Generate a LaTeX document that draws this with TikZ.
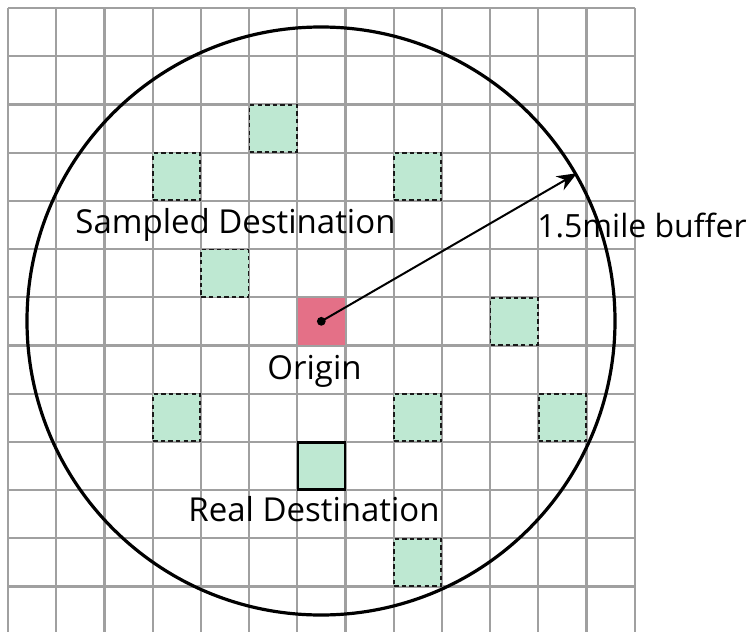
\documentclass[tikz,border=0pt]{standalone}
\usepackage{fontspec}
\setmainfont{Open Sans}
\usetikzlibrary{arrows.meta}
\definecolor{gridgray}{RGB}{160,160,160}
\definecolor{mint}{RGB}{190,232,210}
\definecolor{originpink}{RGB}{228,112,135}
\begin{document}
\begin{tikzpicture}[x=0.5pt,y=-0.5pt,
  gridline/.style={draw=gridgray,line width=1.1pt},
  cellbox/.style={rectangle,minimum size=23.6pt,inner sep=0pt},
  sampled/.style={cellbox,fill=mint,draw=black!90,line width=0.9pt,dash pattern=on 2.2pt off 1.6pt},
  realdest/.style={cellbox,fill=mint,draw=black,line width=1.2pt},
  orig/.style={cellbox,fill=originpink},
  lbl/.style={font=\fontsize{16.5}{19}\selectfont,inner sep=0pt,anchor=base west},
  buffercircle/.style={circle,draw=black,line width=1.6pt,minimum size=294pt,inner sep=0pt}
]
\useasboundingbox (0,0) rectangle (751,632);
\begin{scope}
\clip (0,0) rectangle (751,632);
\foreach \i in {0,...,13} \draw[gridline] ({8+\i*48.2},8) -- ({8+\i*48.2},640);
\foreach \j in {0,...,12} \draw[gridline] (8,{8+\j*48.2}) -- (634.6,{8+\j*48.2});
\end{scope}
% sampled destinations (col,row)
\node[sampled] (s1) at ({8+5.5*48.2},{8+2.5*48.2}) {};
\node[sampled] (s2) at ({8+3.5*48.2},{8+3.5*48.2}) {};
\node[sampled] (s3) at ({8+8.5*48.2},{8+3.5*48.2}) {};
\node[sampled] (s4) at ({8+4.5*48.2},{8+5.5*48.2}) {};
\node[sampled] (s5) at ({8+10.5*48.2},{8+6.5*48.2}) {};
\node[sampled] (s6) at ({8+3.5*48.2},{8+8.5*48.2}) {};
\node[sampled] (s7) at ({8+8.5*48.2},{8+8.5*48.2}) {};
\node[sampled] (s8) at ({8+11.5*48.2},{8+8.5*48.2}) {};
\node[sampled] (s9) at ({8+8.5*48.2},{8+11.5*48.2}) {};
\node[realdest] (real) at ({8+6.5*48.2},{8+9.5*48.2}) {};
\node[orig] (origin) at ({8+6.5*48.2},{8+6.5*48.2}) {};
% buffer circle
\node[buffercircle] (buffer) at (321,321) {};
\fill[black] (origin.center) circle (2.2pt);
\draw[line width=1pt,-{Stealth[length=10pt,width=8pt]}] (origin.center) -- (buffer.30.5);
% labels
\node[lbl] (lsampled) at (75,233) {Sampled Destination};
\node[lbl] (lorigin) at (267,379) {Origin};
\node[lbl] (lreal) at (188,521) {Real Destination};
\node[lbl,font=\fontsize{16}{19}\selectfont,anchor=base east] (lbuffer) at (747,237) {1.5mile buffer};
\end{tikzpicture}
\end{document}
